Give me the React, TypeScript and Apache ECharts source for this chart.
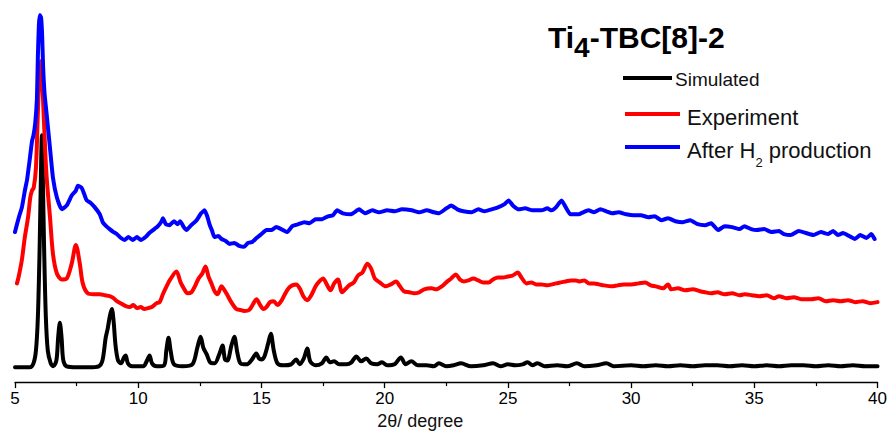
import React, { useEffect, useRef } from "react";
import * as echarts from "echarts";

// 2θ (degree), intensity (a.u., curves offset vertically as in the figure)
const simulated: [number, number][] = [
  [5.0, 15], [5.6, 15], [5.75, 19], [5.85, 32], [5.93, 67], [6.0, 137], [6.05, 207], [6.09, 250],
  [6.13, 207], [6.18, 137], [6.25, 67], [6.33, 32], [6.45, 19], [6.55, 16], [6.68, 22], [6.75, 45],
  [6.82, 60], [6.89, 45], [6.96, 22], [7.1, 16], [7.5, 15], [8.0, 15], [8.4, 16], [8.55, 22],
  [8.68, 45], [8.76, 54], [8.85, 67], [8.93, 74], [9.0, 62], [9.08, 37], [9.18, 22], [9.3, 19],
  [9.42, 25], [9.49, 27], [9.58, 19], [9.75, 16], [10.2, 16], [10.36, 22], [10.46, 27], [10.56, 19],
  [10.75, 16], [11.05, 17], [11.14, 32], [11.23, 45], [11.32, 31], [11.45, 18], [11.8, 16], [12.2, 18],
  [12.4, 35], [12.53, 46], [12.64, 35], [12.78, 28], [12.92, 20], [13.1, 19], [13.3, 29], [13.42, 37],
  [13.52, 23], [13.62, 22], [13.78, 37], [13.9, 46], [14.02, 30], [14.15, 19], [14.4, 18], [14.62, 23],
  [14.79, 29], [14.9, 24], [15.0, 23], [15.12, 26], [15.27, 39], [15.38, 49], [15.5, 32], [15.65, 19],
  [15.9, 17], [16.2, 18], [16.41, 23], [16.55, 18], [16.72, 24], [16.86, 34], [16.98, 21], [17.2, 17],
  [17.45, 19], [17.63, 25], [17.78, 20], [17.95, 21], [18.15, 18], [18.45, 18], [18.65, 20], [18.85, 26],
  [19.05, 21], [19.25, 24], [19.45, 19], [19.7, 18], [19.89, 20], [20.1, 17], [20.4, 18], [20.66, 25],
  [20.85, 18], [21.08, 21], [21.35, 17], [21.7, 17], [22.0, 16], [22.2, 19], [22.5, 16], [22.8, 17],
  [23.1, 19], [23.5, 16], [24.0, 17], [24.4, 19], [24.7, 16], [25.0, 18], [25.3, 17], [25.6, 18],
  [25.8, 20], [26.0, 17], [26.2, 19], [26.5, 16], [27.0, 17], [27.4, 16], [27.8, 19], [28.1, 16],
  [28.6, 17], [29.0, 19], [29.3, 16], [30.0, 17], [30.5, 16], [31.0, 17], [31.5, 16], [32.0, 17],
  [32.5, 16], [33.0, 17], [33.5, 17], [34.0, 16], [34.5, 17], [35.0, 16], [35.5, 17], [36.0, 16],
  [36.5, 17], [37.0, 17], [37.5, 16], [38.0, 17], [38.5, 16], [39.0, 17], [39.5, 16], [40.0, 16],
];

const experiment: [number, number][] = [
  [5.08, 100], [5.15, 107], [5.28, 124], [5.4, 147], [5.53, 167], [5.62, 187], [5.69, 194], [5.76, 197],
  [5.85, 217], [5.92, 267], [5.98, 307], [6.04, 325], [6.1, 307], [6.17, 267], [6.24, 227], [6.3, 202],
  [6.42, 167], [6.54, 130], [6.7, 110], [6.9, 104], [7.1, 105], [7.3, 120], [7.47, 139], [7.63, 120],
  [7.75, 100], [7.95, 90], [8.2, 89], [8.44, 89], [8.65, 88], [8.84, 87], [9.0, 85], [9.13, 82],
  [9.35, 79], [9.5, 77], [9.65, 76], [9.8, 78], [9.95, 75], [10.1, 76], [10.25, 74], [10.4, 75],
  [10.55, 76], [10.75, 80], [10.87, 81], [11.0, 89], [11.15, 97], [11.3, 104], [11.55, 112], [11.72, 101],
  [11.85, 95], [12.0, 90], [12.16, 91], [12.3, 97], [12.45, 105], [12.6, 110], [12.73, 117], [12.85, 107],
  [12.97, 100], [13.1, 92], [13.22, 89], [13.38, 97], [13.48, 94], [13.6, 89], [13.75, 82], [13.98, 74],
  [14.15, 73], [14.3, 72], [14.5, 73], [14.66, 79], [14.8, 84], [14.95, 78], [15.08, 74], [15.2, 76],
  [15.35, 81], [15.5, 82], [15.65, 78], [15.8, 82], [15.95, 89], [16.1, 95], [16.25, 98], [16.41, 99],
  [16.55, 95], [16.7, 87], [16.86, 83], [17.0, 87], [17.2, 97], [17.35, 102], [17.5, 105], [17.65, 99],
  [17.8, 93], [17.95, 100], [18.1, 104], [18.27, 91], [18.4, 94], [18.56, 98], [18.75, 101], [18.92, 108],
  [19.1, 111], [19.3, 120], [19.45, 115], [19.6, 105], [19.8, 101], [20.05, 97], [20.25, 99], [20.46, 102],
  [20.62, 97], [20.78, 92], [21.0, 91], [21.2, 90], [21.4, 91], [21.6, 94], [21.9, 95], [22.1, 94],
  [22.32, 97], [22.5, 101], [22.7, 105], [22.89, 109], [23.05, 104], [23.21, 102], [23.4, 103], [23.6, 105],
  [23.8, 103], [24.0, 101], [24.22, 101], [24.4, 104], [24.6, 106], [24.8, 106], [25.0, 107], [25.2, 108],
  [25.4, 111], [25.55, 106], [25.76, 100], [25.95, 101], [26.15, 99], [26.37, 99], [26.6, 98], [26.8, 99],
  [26.95, 100], [27.15, 101], [27.35, 102], [27.55, 103], [27.75, 103], [27.9, 102], [28.1, 103], [28.3, 100],
  [28.5, 100], [28.7, 99], [28.9, 98], [29.2, 97], [29.45, 98], [29.7, 99], [30.0, 99], [30.3, 100],
  [30.57, 101], [30.8, 98], [31.0, 97], [31.3, 95], [31.5, 99], [31.63, 94], [31.9, 95], [32.2, 93],
  [32.5, 94], [32.8, 92], [33.0, 91], [33.25, 90], [33.5, 91], [33.8, 89], [34.1, 90], [34.4, 88],
  [34.62, 89], [34.9, 88], [35.2, 87], [35.5, 88], [35.8, 85], [36.0, 87], [36.3, 85], [36.6, 86],
  [36.9, 84], [37.3, 84], [37.6, 85], [37.9, 82], [38.2, 83], [38.5, 82], [38.8, 83], [39.1, 81],
  [39.4, 82], [39.7, 80], [40.0, 81],
];

const afterH2: [number, number][] = [
  [5.0, 152], [5.08, 160], [5.18, 169], [5.28, 177], [5.4, 194], [5.49, 205], [5.58, 222], [5.69, 244],
  [5.75, 250], [5.82, 262], [5.89, 287], [5.93, 332], [5.97, 362], [6.01, 372], [6.06, 369], [6.1, 352],
  [6.14, 320], [6.2, 292], [6.29, 270], [6.42, 237], [6.54, 207], [6.7, 187], [6.9, 175], [7.1, 179],
  [7.3, 189], [7.47, 194], [7.55, 199], [7.7, 197], [7.8, 191], [7.91, 184], [8.05, 182], [8.24, 177],
  [8.44, 170], [8.56, 162], [8.7, 158], [8.84, 155], [9.0, 152], [9.13, 150], [9.3, 146], [9.45, 144],
  [9.6, 147], [9.78, 144], [9.95, 147], [10.1, 144], [10.3, 147], [10.45, 151], [10.6, 154], [10.8, 158],
  [10.95, 163], [11.0, 166], [11.12, 160], [11.27, 159], [11.45, 163], [11.6, 160], [11.7, 163], [11.85, 157],
  [11.96, 154], [12.15, 159], [12.37, 164], [12.55, 171], [12.69, 174], [12.8, 168], [12.89, 160], [13.0, 153],
  [13.09, 147], [13.25, 148], [13.38, 145], [13.55, 143], [13.7, 140], [13.9, 141], [14.1, 138], [14.3, 137],
  [14.45, 141], [14.63, 142], [14.8, 146], [15.0, 150], [15.2, 154], [15.4, 154], [15.6, 157], [15.8, 155],
  [16.05, 152], [16.25, 158], [16.5, 160], [16.74, 162], [16.95, 161], [17.2, 165], [17.46, 165], [17.7, 168],
  [17.9, 169], [18.07, 174], [18.3, 171], [18.64, 170], [18.96, 175], [19.2, 171], [19.5, 174], [19.77, 172],
  [20.1, 174], [20.4, 173], [20.7, 175], [21.1, 174], [21.4, 172], [21.7, 174], [22.0, 172], [22.2, 171],
  [22.45, 175], [22.7, 179], [22.95, 175], [23.2, 173], [23.53, 172], [23.8, 175], [24.05, 173], [24.34, 175],
  [24.6, 177], [24.85, 180], [25.03, 184], [25.2, 179], [25.44, 175], [25.7, 176], [26.0, 174], [26.37, 174],
  [26.6, 176], [26.77, 174], [26.95, 177], [27.1, 182], [27.18, 184], [27.35, 177], [27.54, 170], [27.87, 170],
  [28.05, 172], [28.27, 174], [28.5, 172], [28.75, 175], [29.0, 173], [29.25, 171], [29.49, 172], [29.8, 170],
  [30.1, 169], [30.4, 169], [30.7, 167], [30.95, 168], [31.23, 164], [31.5, 166], [31.8, 163], [32.1, 162],
  [32.4, 164], [32.7, 160], [33.0, 159], [33.25, 161], [33.53, 154], [33.8, 158], [34.1, 157], [34.4, 155],
  [34.6, 158], [34.87, 155], [35.1, 154], [35.4, 155], [35.7, 152], [36.0, 153], [36.2, 150], [36.48, 149],
  [36.8, 153], [37.1, 151], [37.4, 149], [37.7, 152], [38.0, 150], [38.2, 153], [38.39, 149], [38.6, 151],
  [38.85, 148], [39.08, 145], [39.3, 149], [39.55, 146], [39.75, 150], [39.88, 145],
];

const xTicks = [5, 10, 15, 20, 25, 30, 35, 40];

const FONT = "'Liberation Sans', Arial, sans-serif";
const NARROW = "'Liberation Sans Narrow', 'Liberation Sans', Arial, sans-serif";

export default function App() {
  const ref = useRef<HTMLDivElement>(null);
  useEffect(() => {
    if (!ref.current) return;
    const chart = echarts.init(ref.current, undefined, { renderer: "svg" });
    const mkSeries = (name: string, data: [number, number][], color: string, smooth: number) => ({
      name,
      type: "line",
      data,
      showSymbol: false,
      smooth,
      clip: false,
      lineStyle: { color, width: 4, join: "round", cap: "round" },
      itemStyle: { color },
      emphasis: { disabled: true },
    });
    chart.setOption({
      animation: false,
      backgroundColor: "#ffffff",
      title: {
        text: "{a|Ti}{s|4}{a|-TBC[8]-2}",
        left: 548,
        top: 15,
        padding: 0,
        textStyle: {
          rich: {
            a: { fontSize: 30, fontWeight: "bold", fontFamily: FONT, color: "#000", lineHeight: 44 },
            s: { fontSize: 28, fontWeight: "bold", fontFamily: FONT, color: "#000", lineHeight: 24, padding: [20, 0, 0, 0] },
          },
        },
      },
      grid: { left: 15, right: 10, top: 7, bottom: 48 },
      xAxis: {
        type: "value",
        min: xTicks[0],
        max: xTicks[xTicks.length - 1],
        interval: 5,
        name: "2θ/ degree",
        nameLocation: "middle",
        nameGap: 26,
        nameTextStyle: { fontSize: 18, color: "#111", fontFamily: FONT, padding: [0, 52, 0, 0] },
        axisLine: { show: true, onZero: false, lineStyle: { color: "#000", width: 1.3 } },
        axisTick: { show: true, inside: false, length: 6, lineStyle: { color: "#000", width: 1.3 } },
        minorTick: { show: true, splitNumber: 2, length: 4, lineStyle: { color: "#000", width: 1.2 } },
        splitLine: { show: false },
        axisLabel: { fontSize: 17, color: "#000", margin: 8, fontFamily: NARROW },
      },
      yAxis: {
        type: "value",
        min: 0,
        max: 380,
        show: false,
        splitLine: { show: false },
      },
      series: [
        mkSeries("Simulated", simulated, "#000000", 0.3),
        mkSeries("Experiment", experiment, "#ff0000", 0.3),
        mkSeries("After H2 production", afterH2, "#0000ff", 0.15),
      ],
      graphic: [
        { type: "line", shape: { x1: 623, y1: 78, x2: 672, y2: 78 }, style: { stroke: "#000", lineWidth: 4 } },
        {
          type: "text",
          style: { x: 675, y: 79, text: "Simulated", fontSize: 19, fontFamily: FONT, fill: "#111", verticalAlign: "middle" },
        },
        { type: "line", shape: { x1: 625, y1: 114, x2: 680, y2: 114 }, style: { stroke: "#ff0000", lineWidth: 4 } },
        {
          type: "text",
          style: { x: 687, y: 117, text: "Experiment", fontSize: 22, fontFamily: FONT, fill: "#111", verticalAlign: "middle" },
        },
        { type: "line", shape: { x1: 625, y1: 147, x2: 680, y2: 147 }, style: { stroke: "#0000ff", lineWidth: 4 } },
        {
          type: "text",
          style: {
            x: 687,
            y: 150,
            text: "{m|After H}{s|2}{m| production}",
            verticalAlign: "middle",
            rich: {
              m: { fontSize: 22, fontFamily: FONT, fill: "#111", color: "#111", lineHeight: 40 },
              s: { fontSize: 13, fontFamily: FONT, fill: "#111", color: "#111", lineHeight: 16, padding: [24, 0, 0, 0] },
            },
          },
        },
      ],
    });
    return () => chart.dispose();
  }, []);
  return (
    <div
      ref={ref}
      style={{ position: "fixed", left: 0, top: 0, width: 890, height: 435, background: "#fff" }}
    />
  );
}
